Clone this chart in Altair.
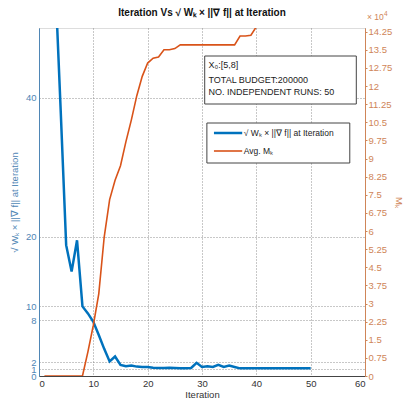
import altair as alt
import pandas as pd

# ---- data ----
iterations = list(range(1, 51))
grad_norm = [160, 110, 56.6, 38.0, 18.8, 15.0, 19.5, 10.0, 9.0, 7.8,
             5.9, 3.9, 2.1, 2.8, 1.6, 1.4, 1.5, 1.35, 1.3, 1.3,
             1.2, 1.15, 1.15, 1.2, 1.15, 1.1, 1.1, 1.15, 1.9, 1.3,
             1.4, 1.3, 1.6, 1.3, 1.5, 1.3, 1.1, 1.1, 1.1, 1.1,
             1.1, 1.1, 1.1, 1.1, 1.1, 1.1, 1.1, 1.1, 1.1, 1.1]

m_iterations = list(range(1, 41))
avg_m = [0, 0, 0, 0, 0, 0, 0, 0, 10000, 21000,
         34000, 57500, 73000, 81000, 87000, 97000, 106000, 116000, 124000, 129500,
         131500, 132000, 135000, 135000, 135500, 137000, 137000, 137000, 137000, 137000,
         137000, 137000, 137000, 137000, 137000, 137000, 140700, 140700, 141000, 144500]

x_ticks = [0, 10, 20, 30, 40, 50, 60]
left_ticks = [0, 1, 2, 8, 10, 20, 40]
right_ticks = [i * 7500 for i in range(20)]

title_text = "Iteration Vs √ Wₖ × ||∇ f|| at Iteration"
left_title = "√ Wₖ × ||∇ f|| at Iteration"
right_title = "Mₖ"
legend_labels = ["√ Wₖ × ||∇ f|| at Iteration", "Avg. Mₖ"]
note_lines = ["X₀:[5,8]", "TOTAL BUDGET:200000", "NO. INDEPENDENT RUNS: 50"]

BLUE = "#0072BD"
ORANGE = "#D95319"
LBLUE = "#4f86b5"
LORANGE = "#cf8558"
FONT = "Liberation Sans"

H = 348

df_g = pd.DataFrame({"it": iterations, "g": grad_norm})
df_m = pd.DataFrame({"it": m_iterations, "m": avg_m})

x_scale = alt.Scale(domain=[0, 60], nice=False)
x_enc = alt.X(
    "it:Q", scale=x_scale,
    axis=alt.Axis(values=x_ticks, title="Iteration", grid=True, gridDash=[1, 2],
                  gridColor="#777", gridOpacity=0.8, tickSize=0,
                  domainColor="#444", labelColor="#333", titleColor="#333",
                  labelFontSize=9.5, titleFontSize=9.5, titleFontWeight="normal",
                  labelPadding=2, titlePadding=2, labelFont=FONT, titleFont=FONT),
)

blue = alt.Chart(df_g).mark_line(color=BLUE, strokeWidth=2.5, clip=True).encode(
    x=x_enc,
    y=alt.Y("g:Q", scale=alt.Scale(domain=[0, 50], nice=False),
            axis=alt.Axis(orient="left", values=left_ticks, title=left_title, grid=True,
                          gridDash=[1, 2], gridColor="#777", gridOpacity=0.8,
                          tickSize=0, domainColor=LBLUE,
                          labelColor=LBLUE, titleColor=LBLUE, labelFontSize=9.5,
                          titleFontSize=9.5, titleFontWeight="normal", labelPadding=3,
                          titlePadding=6, labelFont=FONT, titleFont=FONT,
                          labelOverlap=False)),
)

orange = alt.Chart(df_m).mark_line(color=ORANGE, strokeWidth=1.6, clip=True).encode(
    x=x_enc,
    y=alt.Y("m:Q", scale=alt.Scale(domain=[0, 144000], nice=False),
            axis=alt.Axis(orient="right", values=right_ticks,
                          labelExpr="'' + datum.value/10000",
                          title=right_title, grid=False, tickSize=2, tickColor=LORANGE,
                          domainColor=LORANGE, labelColor=LORANGE, titleColor=LORANGE,
                          labelFontSize=9.5, titleFontSize=9.5, titleFontWeight="normal",
                          labelPadding=1, titlePadding=2, labelFont=FONT, titleFont=FONT,
                          labelOverlap=False)),
)

one = pd.DataFrame({"a": [0]})

# chart title (as text centred on the plot)
title_mark = alt.Chart(one).mark_text(fontSize=10, font=FONT, fontWeight="bold",
                                      color="#111", baseline="middle").encode(
    x=alt.X("xc:Q", scale=x_scale), y=alt.value(-15), text=alt.value(title_text)
).transform_calculate(xc="30")

# annotation box
note_box = alt.Chart(one).mark_rect(fill="white", stroke="#444", strokeWidth=1).encode(
    x=alt.X("x1:Q", scale=x_scale), x2="x2:Q", y=alt.value(28), y2=alt.value(76)
).transform_calculate(x1="30.5", x2="58.4")
note_df = pd.DataFrame({"t": note_lines, "yy": [37, 52, 64], "xx": [31.2] * 3})
note_text = alt.Chart(note_df).mark_text(align="left", baseline="middle", fontSize=9,
                                         font=FONT, color="#222").encode(
    x=alt.X("xx:Q", scale=x_scale), y=alt.Y("yy:Q", scale=None), text="t:N")

# legend box
leg_box = alt.Chart(one).mark_rect(fill="white", stroke="#444", strokeWidth=1).encode(
    x=alt.X("x1:Q", scale=x_scale), x2="x2:Q", y=alt.value(95), y2=alt.value(135)
).transform_calculate(x1="30.9", x2="57.2")
leg_df = pd.DataFrame({"t": legend_labels, "yy": [105, 123], "c": [BLUE, ORANGE],
                       "sw": [2.5, 1.6], "xa": [32.2, 32.2], "xb": [37.4, 37.4],
                       "xt": [37.7, 37.7]})
leg_lines = alt.Chart(leg_df).mark_rule().encode(
    x=alt.X("xa:Q", scale=x_scale), x2="xb:Q", y=alt.Y("yy:Q", scale=None),
    color=alt.Color("c:N", scale=None), strokeWidth=alt.StrokeWidth("sw:Q", scale=None))
leg_text = alt.Chart(leg_df).mark_text(align="left", baseline="middle", fontSize=8.5,
                                       font=FONT, color="#222").encode(
    x=alt.X("xt:Q", scale=x_scale), y=alt.Y("yy:Q", scale=None), text="t:N")

exp_text = alt.Chart(one).mark_text(align="left", baseline="alphabetic", fontSize=8.5,
                                    font=FONT, color=LORANGE, dx=2).encode(
    x=alt.X("xr:Q", scale=x_scale), y=alt.value(-8), text=alt.value("× 10")
).transform_calculate(xr="60")
exp_sup = alt.Chart(one).mark_text(align="left", baseline="alphabetic", fontSize=6.5,
                                   font=FONT, color=LORANGE, dx=19).encode(
    x=alt.X("xr:Q", scale=x_scale), y=alt.value(-12), text=alt.value("4")
).transform_calculate(xr="60")

chart = alt.layer(
    blue, orange, title_mark, note_box, note_text, leg_box, leg_lines, leg_text,
    exp_text, exp_sup
).resolve_scale(y="independent").properties(
    width=396, height=H,
    autosize=alt.AutoSizeParams(type="fit-x", contains="padding"),
    padding={"left": 1, "top": 0, "right": 0, "bottom": 0},
).configure_view(stroke="#333", strokeWidth=1).configure(background="white")

chart.save("out.html", embed_options={"renderer": "svg", "actions": False})
